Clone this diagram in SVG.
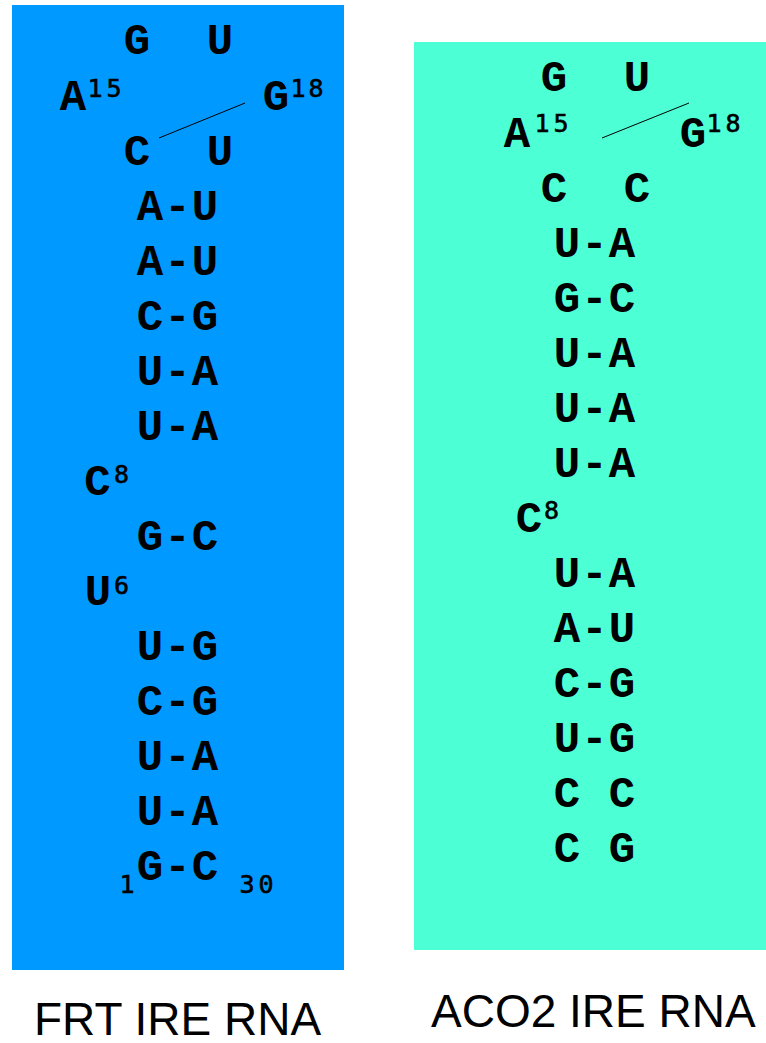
<svg xmlns="http://www.w3.org/2000/svg" width="766" height="1043" viewBox="0 0 766 1043">
<style>
.b{font-family:"Liberation Mono","Courier New",monospace;font-weight:bold;font-size:44px;fill:#000;text-anchor:middle}
.d{font-family:"DejaVu Sans Mono",monospace;font-size:25px;fill:#000;stroke:#000;stroke-width:0.6;text-anchor:middle}
.lbl{font-family:"Liberation Sans",Arial,sans-serif;font-size:46px;fill:#000}
.ln{stroke:#000;stroke-width:1;fill:none}
</style>
<rect id="panel-frt" x="12" y="5" width="332" height="965" fill="#0099ff"/>
<rect id="panel-aco2" x="414" y="42" width="352" height="908" fill="#4dffd4"/>
<g id="connectors">
<line class="ln" x1="159" y1="138" x2="245" y2="103"/>
<line class="ln" x1="602" y1="138" x2="689" y2="103"/>
</g>
<g id="frt">
<g id="frt-loop-top"><text class="b" x="137 220" y="54">GU</text></g>
<g id="frt-A15"><text class="b" x="73" y="110">A</text><text class="d" x="95 114" y="97">15</text></g>
<g id="frt-G18"><text class="b" x="276" y="110">G</text><text class="d" x="298 316" y="97">18</text></g>
<g id="frt-loop-bottom"><text class="b" x="137 220" y="165">CU</text></g>
<g id="frt-p1"><text class="b" x="150 177.5 205" y="220">A-U</text></g>
<g id="frt-p2"><text class="b" x="150 177.5 205" y="275">A-U</text></g>
<g id="frt-p3"><text class="b" x="150 177.5 205" y="330">C-G</text></g>
<g id="frt-p4"><text class="b" x="150 177.5 205" y="385">U-A</text></g>
<g id="frt-p5"><text class="b" x="150 177.5 205" y="440">U-A</text></g>
<g id="frt-C8"><text class="b" x="97.5" y="495">C</text><text class="d" x="121.5" y="483">8</text></g>
<g id="frt-p6"><text class="b" x="150 177.5 205" y="550">G-C</text></g>
<g id="frt-U6"><text class="b" x="98" y="605">U</text><text class="d" x="121.5" y="594">6</text></g>
<g id="frt-p7"><text class="b" x="150 177.5 205" y="660">U-G</text></g>
<g id="frt-p8"><text class="b" x="150 177.5 205" y="715">C-G</text></g>
<g id="frt-p9"><text class="b" x="150 177.5 205" y="770">U-A</text></g>
<g id="frt-p10"><text class="b" x="150 177.5 205" y="825">U-A</text></g>
<g id="frt-p11"><text class="b" x="150 177.5 205" y="880">G-C</text><text class="d" x="127" y="893">1</text><text class="d" x="247 266" y="893">30</text></g>
</g>
<g id="aco2">
<g id="aco2-loop-top"><text class="b" x="554 637" y="91">GU</text></g>
<g id="aco2-A15"><text class="b" x="517" y="147">A</text><text class="d" x="542 561" y="132">15</text></g>
<g id="aco2-G18"><text class="b" x="693" y="147">G</text><text class="d" x="714 733" y="132">18</text></g>
<g id="aco2-loop-bottom"><text class="b" x="554 637" y="202">CC</text></g>
<g id="aco2-p1"><text class="b" x="567 594.5 622" y="257">U-A</text></g>
<g id="aco2-p2"><text class="b" x="567 594.5 622" y="312">G-C</text></g>
<g id="aco2-p3"><text class="b" x="567 594.5 622" y="367">U-A</text></g>
<g id="aco2-p4"><text class="b" x="567 594.5 622" y="422">U-A</text></g>
<g id="aco2-p5"><text class="b" x="567 594.5 622" y="477">U-A</text></g>
<g id="aco2-C8"><text class="b" x="529" y="532">C</text><text class="d" x="551.5" y="519">8</text></g>
<g id="aco2-p6"><text class="b" x="567 594.5 622" y="587">U-A</text></g>
<g id="aco2-p7"><text class="b" x="567 594.5 622" y="642">A-U</text></g>
<g id="aco2-p8"><text class="b" x="567 594.5 622" y="697">C-G</text></g>
<g id="aco2-p9"><text class="b" x="567 594.5 622" y="752">U-G</text></g>
<g id="aco2-p10"><text class="b" x="567 622" y="807">CC</text></g>
<g id="aco2-p11"><text class="b" x="567 622" y="862">CG</text></g>
</g>
<g id="labels">
<text class="lbl" x="34" y="1035">FRT IRE RNA</text>
<text class="lbl" x="431" y="1027">ACO2 IRE RNA</text>
</g>
</svg>
